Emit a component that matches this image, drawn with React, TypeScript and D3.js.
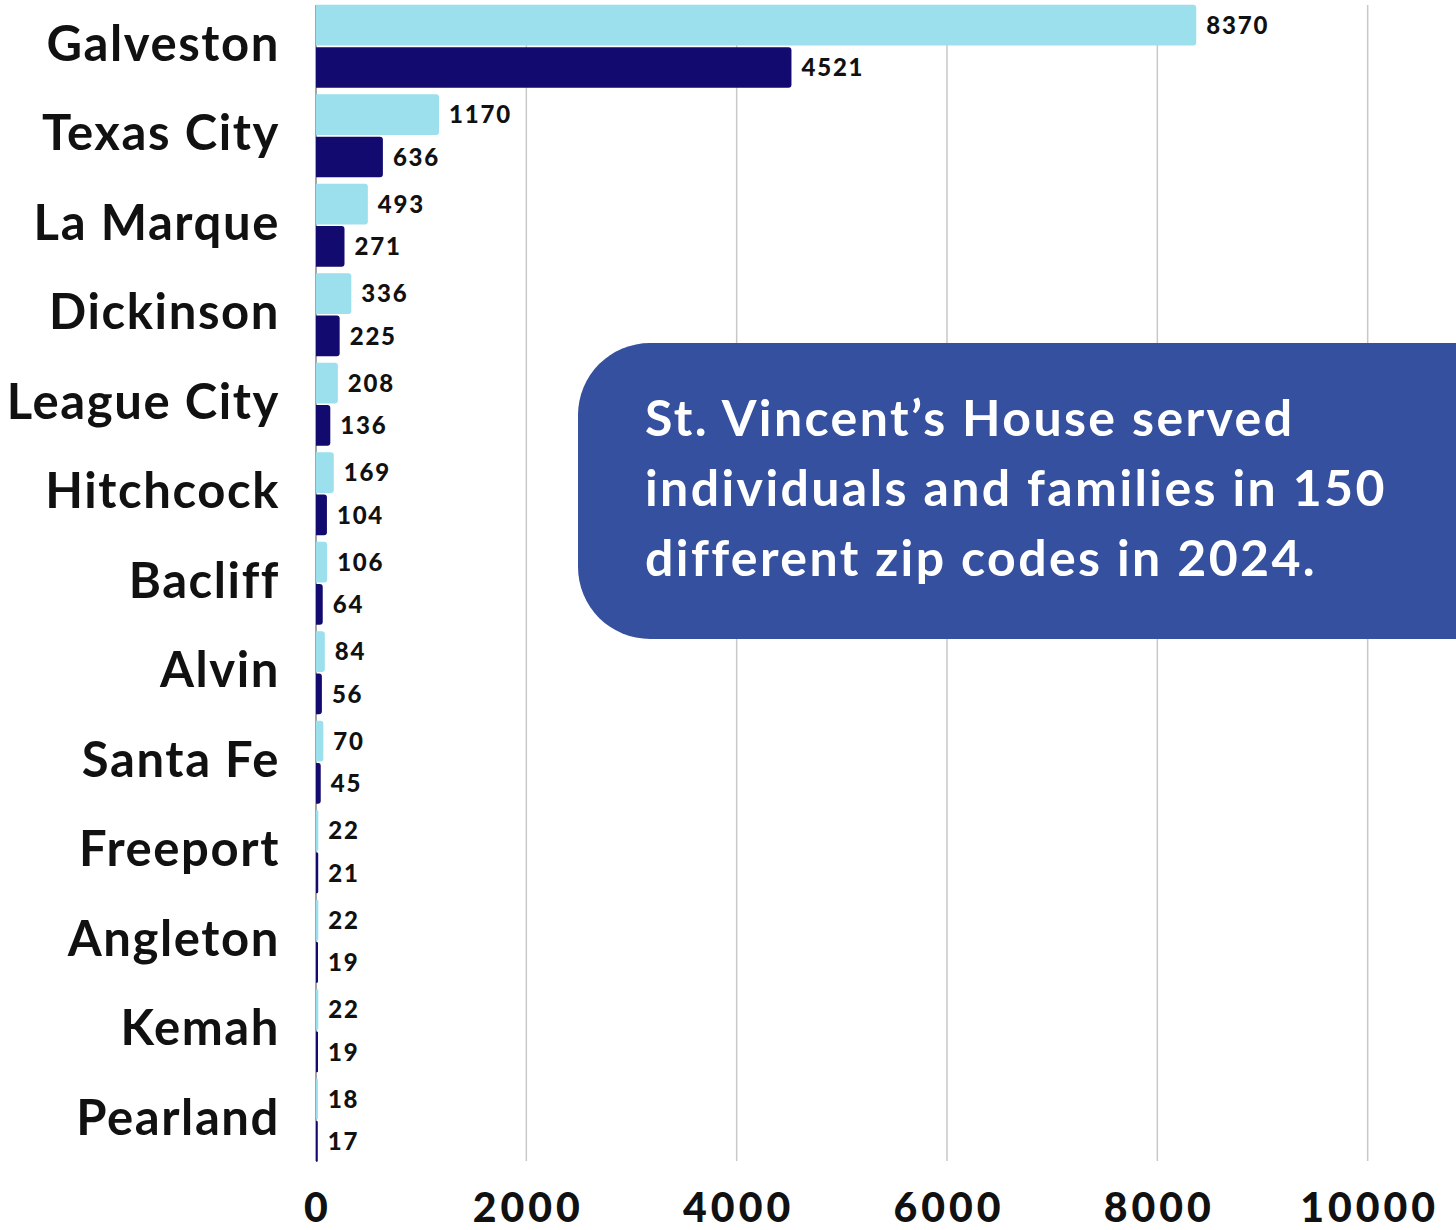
import React from "react";
import * as d3 from "d3";

// two counts per city
const cities = ["Galveston", "Texas City", "La Marque", "Dickinson", "League City", "Hitchcock", "Bacliff", "Alvin", "Santa Fe", "Freeport", "Angleton", "Kemah", "Pearland"];
const seriesA = [8370, 1170, 493, 336, 208, 169, 106, 84, 70, 22, 22, 22, 18];
const seriesB = [4521, 636, 271, 225, 136, 104, 64, 56, 45, 21, 19, 19, 17];
const xTicks = [0, 2000, 4000, 6000, 8000, 10000];
const noteLines = ["St. Vincent\u2019s House served", "individuals and families in 150", "different zip codes in 2024."];

const W = 1456;
const H = 1230;
const margin = {left: 316, right: 0, top: 0, bottom: 68};

const labelFont = "Lato, 'Open Sans', sans-serif";

function App() {
  const x = d3.scaleLinear().domain([0, 10840]).range([margin.left, W]);
  const y = d3.scaleBand<string>().domain(cities).range([1.5, 1165]).paddingInner(0.073).paddingOuter(0.037);
  const inner = d3.scaleBand<string>().domain(["a", "b"]).range([0, y.bandwidth()]).paddingInner(0.04);
  const plotBottom = 1161;

  const rows = cities.map((c, i) => ({city: c, a: seriesA[i], b: seriesB[i]}));

  const bar = (v: number, top: number, fill: string, key: string) => {
    const w = x(v) - x(0);
    const r = Math.min(3, w / 2);
    const h = inner.bandwidth();
    const x0 = x(0);
    const p = d3.path();
    p.moveTo(x0, top);
    p.lineTo(x0 + w - r, top);
    p.arcTo(x0 + w, top, x0 + w, top + r, r);
    p.lineTo(x0 + w, top + h - r);
    p.arcTo(x0 + w, top + h, x0 + w - r, top + h, r);
    p.lineTo(x0, top + h);
    p.closePath();
    return <path key={key} d={p.toString()} fill={fill} />;
  };

  return (
    <svg width={W} height={H} style={{display: "block", position: "absolute", left: 0, top: 0}}>
      <rect width={W} height={H} fill="#ffffff" />
      {/* grid */}
      {xTicks.map((t) => (
        <line key={"g" + t} x1={x(t)} x2={x(t)} y1={5} y2={plotBottom} stroke={t === 0 ? "#888" : "#c8c8c8"} strokeWidth={1.5} />
      ))}
      {rows.map((r) => {
        const top = y(r.city)!;
        const ya = top + inner("a")!;
        const yb = top + inner("b")!;
        const h = inner.bandwidth();
        return (
          <g key={r.city}>
            {bar(r.a, ya, "#9be0ec", "a")}
            {bar(r.b, yb, "#120a6e", "b")}
            <text x={x(r.a) + 10} y={ya + h / 2} dy="0.36em" fontFamily={labelFont} fontWeight={900} fontSize={24} letterSpacing={1.8} fill="#111">{r.a}</text>
            <text x={x(r.b) + 10} y={yb + h / 2} dy="0.36em" fontFamily={labelFont} fontWeight={900} fontSize={24} letterSpacing={1.8} fill="#111">{r.b}</text>
            <text x={280} y={top + y.bandwidth() / 2 - 3} dy="0.36em" textAnchor="end" fontFamily={labelFont} fontWeight={700} fontSize={49} letterSpacing={1.6} fill="#111">{r.city}</text>
          </g>
        );
      })}
      {/* x axis labels */}
      {xTicks.map((t) => (
        <text key={"t" + t} x={x(t) + 2} y={1222} textAnchor="middle" fontFamily={labelFont} fontWeight={900} fontSize={41} letterSpacing={4} fill="#111">{t}</text>
      ))}
      {/* callout */}
      <rect x={578} y={343} width={W - 578 + 80} height={296} rx={72} ry={72} fill="#34509e" />
      {noteLines.map((l, i) => (
        <text key={i} x={645} y={436 + i * 70} fontFamily={labelFont} fontWeight={700} fontSize={50} letterSpacing={2.4} fill="#ffffff">{l}</text>
      ))}
    </svg>
  );
}

export default App;
